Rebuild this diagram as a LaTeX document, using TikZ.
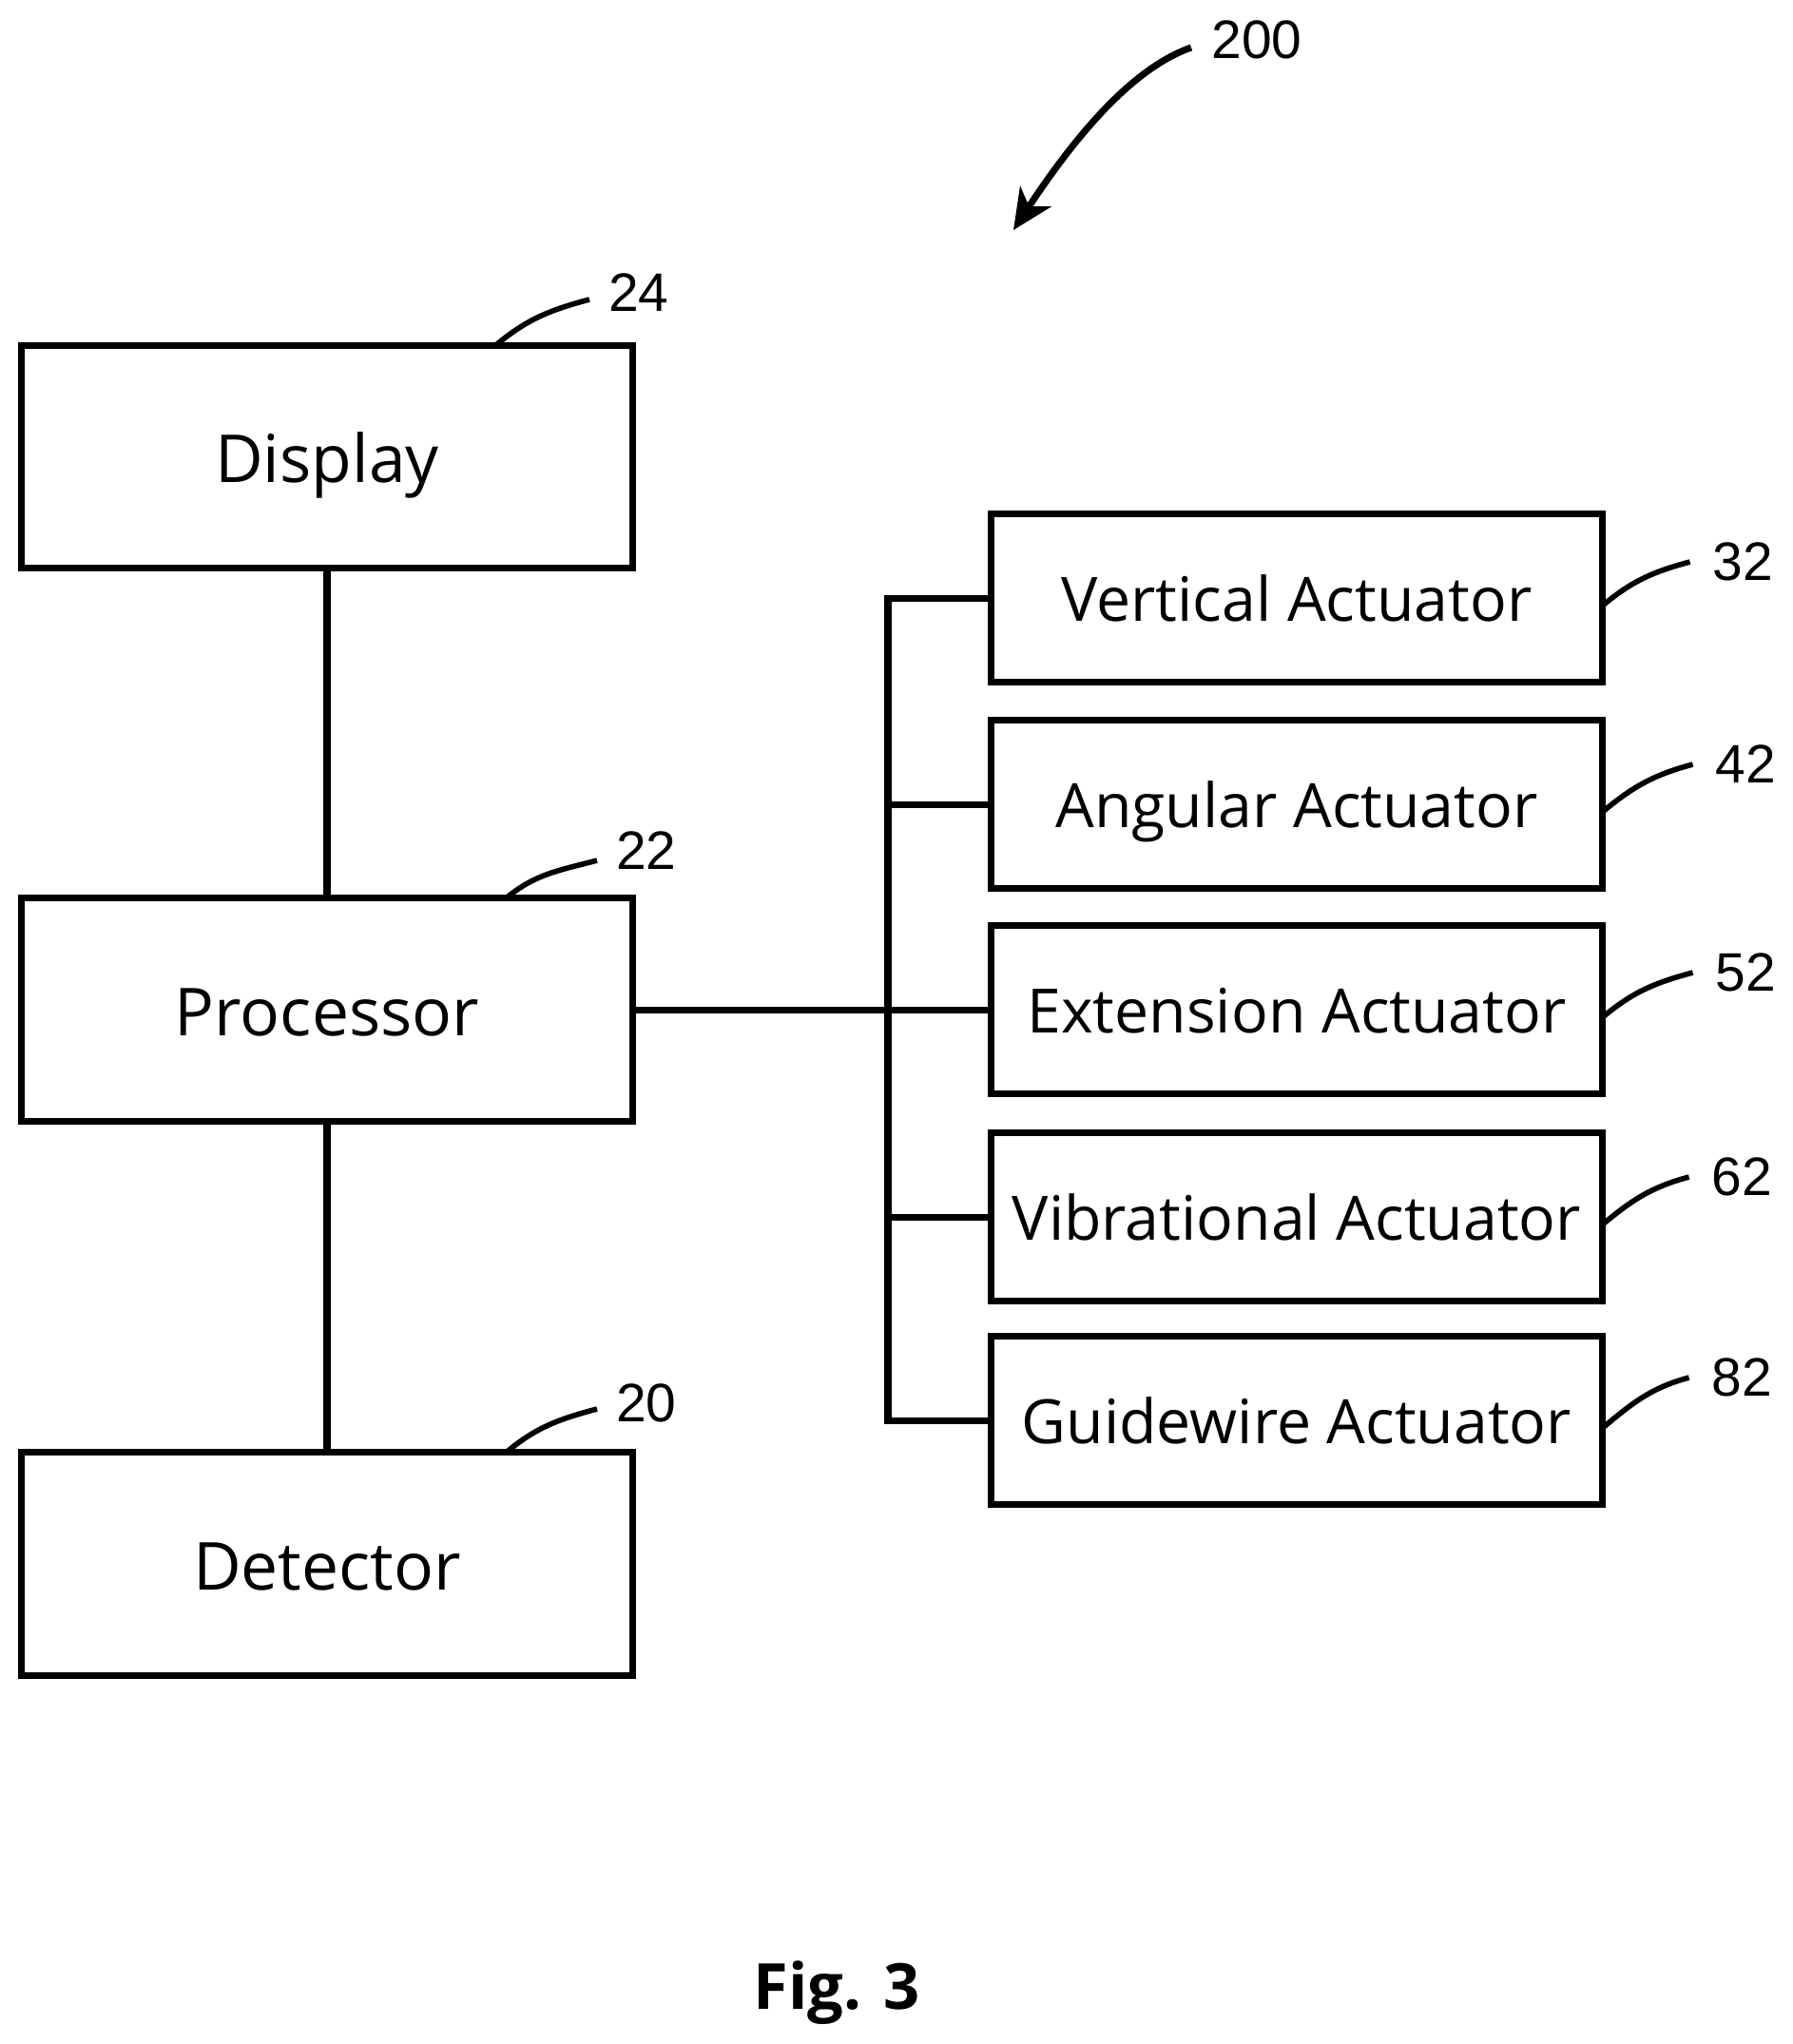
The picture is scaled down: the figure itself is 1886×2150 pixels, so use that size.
\documentclass[tikz,border=0pt]{standalone}
\usepackage{fontspec}
\setmainfont{Open Sans}
\newfontfamily\numfont{Liberation Sans}
\usetikzlibrary{arrows.meta}
\tikzset{
  bigbox/.style={draw, line width=2pt, inner sep=0pt, outer sep=0pt, minimum width=6.43cm, minimum height=2.34cm,
    font=\fontsize{19.8}{24}\selectfont, text height=20.5pt, text depth=5pt},
  actbox/.style={draw, line width=2pt, inner sep=0pt, outer sep=0pt, minimum width=6.43cm, minimum height=1.76cm,
    font=\fontsize{18.3}{22}\selectfont, text height=17.5pt, text depth=3.4pt},
  wire/.style={line width=2pt},
  leadline/.style={line width=1.6pt},
  refnum/.style={font=\numfont\fontsize{16.2}{19}\selectfont, inner sep=0pt},
}
\begin{document}
\begin{tikzpicture}[x=0.01cm, y=-0.01cm]
\useasboundingbox (0,0) rectangle (1886,2150);

\node[bigbox] (display) at (344,480.5) {Display};
\node[bigbox] (proc) at (344,1062) {Processor};
\node[bigbox] (detect) at (344,1645) {Detector};

\node[actbox] (vert) at (1364,629) {Vertical Actuator};
\node[actbox] (ang) at (1364,846) {Angular Actuator};
\node[actbox] (ext) at (1364,1062) {Extension Actuator};
\node[actbox] (vib) at (1364,1280) {Vibrational Actuator};
\node[actbox] (guide) at (1364,1494) {Guidewire Actuator};

\coordinate (bus) at (934,1062);

\draw[wire] (display) -- (proc);
\draw[wire] (proc) -- (detect);
\draw[wire] (proc.east) -- (ext.west);
\draw[wire] (vert.west) -| (bus) |- (guide.west);
\draw[wire] (ang.west) -- (ang.west -| bus);
\draw[wire] (vib.west) -- (vib.west -| bus);

% reference numbers
\node[refnum] (n24) at (672,308) {24};
\node[refnum] (n22) at (680,895) {22};
\node[refnum] (n20) at (680,1476) {20};
\node[refnum] (n32) at (1833,591) {32};
\node[refnum] (n42) at (1836,804) {42};
\node[refnum] (n52) at (1836,1023) {52};
\node[refnum] (n62) at (1832,1238) {62};
\node[refnum] (n82) at (1832,1449) {82};
\node[refnum] (n200) at (1322,42) {200};

\coordinate (c24) at (620,315);
\coordinate (c22) at (628,905);
\coordinate (c20) at (628,1482);
\draw[leadline] ([xshift=1.77cm]display.north) to[out=40,in=195] (c24);
\draw[leadline] ([xshift=1.88cm]proc.north) to[out=40,in=195] (c22);
\draw[leadline] ([xshift=1.88cm]detect.north) to[out=40,in=195] (c20);

\foreach \b/\n in {vert/32, ang/42, ext/52, vib/62, guide/82}{
  \coordinate (e\n) at ([xshift=-.23cm]n\n.west);
  \draw[leadline] ([yshift=-.08cm]\b.east) to[out=40,in=195] (e\n);
}

\coordinate (c200) at (1253,50);
\coordinate (tip200) at (1066,242);
\draw[line width=2pt, -{Stealth[length=12pt,width=11pt,inset=3.5pt]}] (c200) .. controls (1190,72) and (1130,145) .. (tip200);

\node[font=\bfseries\fontsize{19}{23}\selectfont, inner sep=0pt, anchor=base] (figlabel) at (880,2113) {Fig. 3};
\end{tikzpicture}
\end{document}
